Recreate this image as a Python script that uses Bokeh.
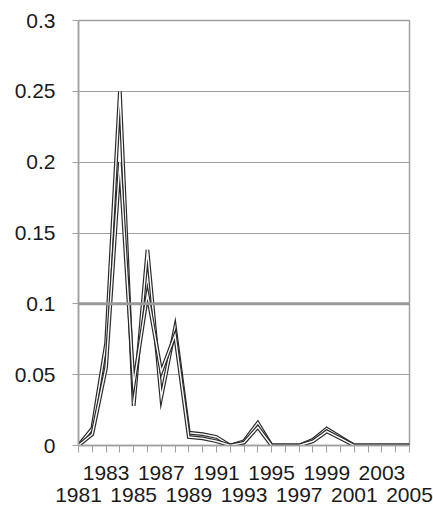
from bokeh.plotting import figure
from bokeh.models import FixedTicker, LinearAxis, Span, Range1d
from bokeh.embed import file_html
from bokeh.resources import INLINE

years = list(range(1981, 2006))
series_a = [0, 0.012, 0.072, 0.25, 0.028, 0.138, 0.034, 0.083, 0.009, 0.008, 0.006, 0.0,
            0.003, 0.016, 0.0, 0.0, 0.0, 0.004, 0.012, 0.006, 0.0, 0.0, 0.0, 0.0, 0.0]
series_b = [0, 0.008, 0.055, 0.2, 0.043, 0.107, 0.052, 0.078, 0.006, 0.005, 0.003, 0.0,
            0.002, 0.013, 0.0, 0.0, 0.0, 0.003, 0.010, 0.005, 0.0, 0.0, 0.0, 0.0, 0.0]
y_ticks = [0, 0.05, 0.1, 0.15, 0.2, 0.25, 0.3]
y_tick_labels = ["0", "0.05", "0.1", "0.15", "0.2", "0.25", "0.3"]
x_labels_row1 = [1983, 1987, 1991, 1995, 1999, 2003]
x_labels_row2 = [1981, 1985, 1989, 1993, 1997, 2001, 2005]

GRAY = "#a0a0a0"
TXT = "#1a1a1a"
FONT = "Liberation Sans"
FS = "21px"

p = figure(width=433, height=518, output_backend="svg", toolbar_location=None,
           x_range=Range1d(1981, 2005), y_range=Range1d(0, 0.3),
           min_border_left=78, min_border_right=24, min_border_top=20, min_border_bottom=73)
p.background_fill_color = "white"
p.border_fill_color = "white"
p.outline_line_color = GRAY
p.outline_line_width = 1.5

# y axis
yax = p.yaxis[0]
yax.ticker = FixedTicker(ticks=y_ticks, minor_ticks=[])
yax.major_label_overrides = {t: l for t, l in zip(y_ticks, y_tick_labels)}
yax.axis_line_color = GRAY
yax.axis_line_width = 1.5
yax.major_tick_line_color = GRAY
yax.major_tick_out = 6
yax.major_tick_in = 0
yax.major_label_standoff = 17
yax.major_label_text_font = FONT
yax.major_label_text_font_size = FS
yax.major_label_text_color = TXT

p.ygrid.grid_line_color = GRAY
p.ygrid.grid_line_width = 1.2
p.xgrid.visible = False

# x axis row 1 (all tick marks, labels 1983, 1987, ...)
xax = p.xaxis[0]
xax.ticker = FixedTicker(ticks=years, minor_ticks=[])
xax.major_label_overrides = {y: (str(y) if y in x_labels_row1 else "") for y in years}
xax.axis_line_color = GRAY
xax.axis_line_width = 1.5
xax.major_tick_line_color = GRAY
xax.major_tick_out = 7
xax.major_tick_in = 0
xax.major_label_standoff = 13
xax.major_label_text_font = FONT
xax.major_label_text_font_size = FS
xax.major_label_text_color = TXT

# x axis row 2 (labels 1981, 1985, ...)
xax2 = LinearAxis(ticker=FixedTicker(ticks=x_labels_row2, minor_ticks=[]))
xax2.major_label_overrides = {y: str(y) for y in x_labels_row2}
xax2.axis_line_color = None
xax2.major_tick_line_color = None
xax2.major_tick_out = 0
xax2.major_tick_in = 0
xax2.minor_tick_out = 0
xax2.major_label_standoff = 5
xax2.major_label_text_font = FONT
xax2.major_label_text_font_size = FS
xax2.major_label_text_color = TXT
p.add_layout(xax2, "below")

# heavier 0.1 line
p.add_layout(Span(location=0.1, dimension="width", line_color="#999999", line_width=3))

# hollow-looking lines
for s in (series_a, series_b):
    p.line(years, s, line_color="#2a2a2a", line_width=3.8, line_join="miter")
    p.line(years, s, line_color="white", line_width=1.4, line_join="miter")

open("out.html", "w").write(file_html(p, INLINE))
